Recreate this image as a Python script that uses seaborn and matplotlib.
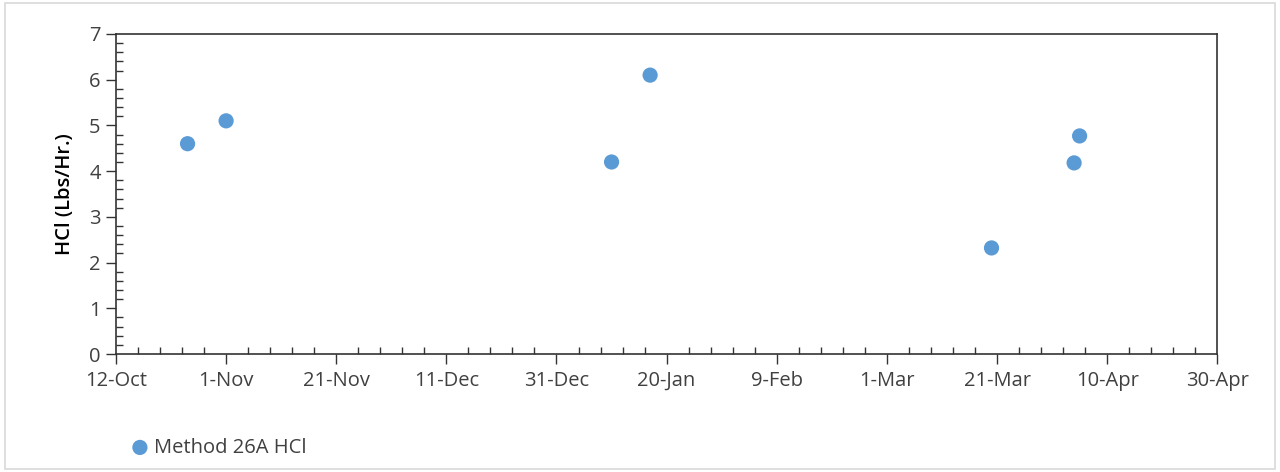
import numpy as np
import pandas as pd
import matplotlib
matplotlib.use("Agg")
import matplotlib.pyplot as plt
import matplotlib.dates as mdates
from matplotlib.ticker import MultipleLocator
from matplotlib.patches import Rectangle
import seaborn as sns

# test dates and HCl results
dates = ["2018-10-25", "2018-11-01", "2019-01-10", "2019-01-17",
         "2019-03-20", "2019-04-04", "2019-04-05"]
hcl = [4.6, 5.1, 4.2, 6.1, 2.32, 4.18, 4.77]
series_name = "Method 26A HCl"

df = pd.DataFrame({"date": pd.to_datetime(dates), "hcl": hcl})

sns.set_theme(style="white")
plt.rcParams["font.family"] = ["Open Sans", "DejaVu Sans"]

fig = plt.figure(figsize=(12.8, 4.72), dpi=100)
ax = fig.add_axes([0.0906, 0.25, 0.8604, 0.678])

sns.scatterplot(data=df, x="date", y="hcl", ax=ax, color="#5B9BD5",
                s=120, edgecolor="none", label=series_name, zorder=3)

start = pd.Timestamp("2018-10-12")
end = pd.Timestamp("2019-04-30")
ax.set_xlim(start, end)
ax.set_ylim(0, 7)

major = pd.date_range(start, end, freq="20D")
minor = pd.date_range(start, end, freq="4D")
ax.set_xticks(major)
ax.set_xticks(minor, minor=True)
ax.xaxis.set_major_formatter(mdates.DateFormatter("%-d-%b"))
ax.yaxis.set_major_locator(MultipleLocator(1))
ax.yaxis.set_minor_locator(MultipleLocator(0.2))
ax.xaxis.set_ticks_position("bottom")
ax.yaxis.set_ticks_position("left")

ax.tick_params(axis="both", which="major", direction="out", length=7,
               width=1, color="#333333", labelsize=14.5, labelcolor="#404040")
ax.tick_params(axis="both", which="minor", direction="in", length=5,
               width=1, color="#333333")
ax.tick_params(axis="x", which="major", pad=5)
ax.tick_params(axis="y", which="major", pad=4)

for sp in ax.spines.values():
    sp.set_visible(True)
    sp.set_color("#333333")
    sp.set_linewidth(1.2)

ax.set_xlabel("")
ax.set_ylabel("HCl (Lbs/Hr.)", fontsize=14.5, color="#000000",
              fontweight="semibold", labelpad=10)

ax.legend(loc="upper left", bbox_to_anchor=(-0.013, -0.205), frameon=False,
          fontsize=14.5, handletextpad=-0.3, markerscale=1.0,
          labelcolor="#404040")

fig.patches.append(Rectangle((0.004, 0.006), 0.992, 0.988,
                             transform=fig.transFigure, fill=False,
                             edgecolor="#d9d9d9", linewidth=1.2))

fig.savefig("out.png", dpi=100, facecolor="white")
